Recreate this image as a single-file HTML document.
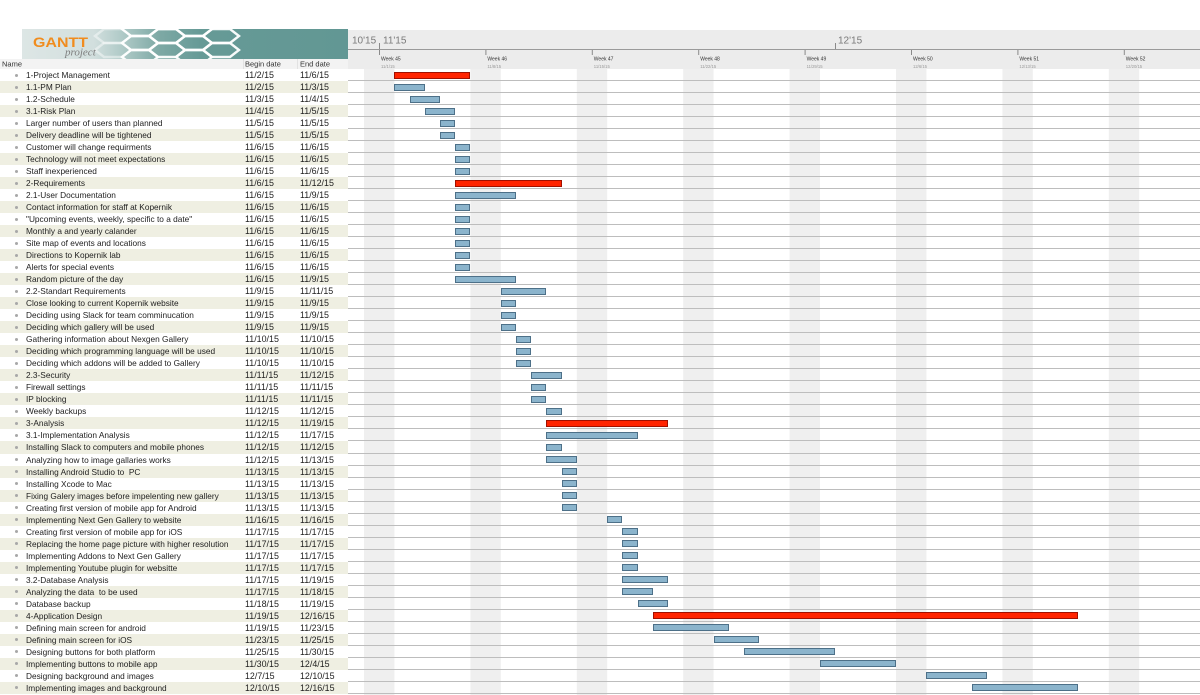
<!DOCTYPE html>
<html><head><meta charset="utf-8">
<style>
html,body{margin:0;padding:0;background:#fff;}
body{width:1200px;height:695px;position:relative;overflow:hidden;font-family:"Liberation Sans",sans-serif;}
#bg{position:absolute;left:0;top:0;}
#rows{position:absolute;left:0;top:69px;width:1200px;}
.r{position:relative;height:12.03px;font-size:8.3px;color:#1e1e1e;line-height:12.03px;}
.r .l{position:absolute;left:0;top:0;width:348px;height:100%;}
.r:nth-child(even) .l{background:#efefe2;}
.r i{position:absolute;left:14.5px;top:4.5px;width:3px;height:3px;border-radius:50%;background:#a8a8a8;}
.r span{position:absolute;top:0;white-space:pre;}
.n{left:26px;}
.b{left:245px;font-size:8.9px;}
.e{left:300px;font-size:8.9px;}
.c{position:absolute;left:348px;right:0;top:0;height:100%;box-sizing:border-box;border-bottom:1px solid #bdbdbd;}
.c u{position:absolute;top:2.5px;height:7px;box-sizing:border-box;border:1px solid #4d7088;background:#8bb4cc;}
.c u.R{border-color:#a01000;background:#ff2400;}
</style></head><body>
<svg id="bg" width="1200" height="695" xmlns="http://www.w3.org/2000/svg">
<defs>
<linearGradient id="bn" x1="0" x2="1" y1="0" y2="0">
<stop offset="0" stop-color="#dde6e5"/>
<stop offset="0.22" stop-color="#d2dfde"/>
<stop offset="0.33" stop-color="#a6c4c1"/>
<stop offset="0.42" stop-color="#7ea9a5"/>
<stop offset="0.55" stop-color="#669a96"/>
<stop offset="1" stop-color="#629794"/>
</linearGradient>
<clipPath id="bc"><rect x="22" y="29" width="326" height="30"/></clipPath>
</defs>
<rect x="22" y="29" width="326" height="30" fill="url(#bn)"/>
<g clip-path="url(#bc)" fill="none" stroke="#ffffff" stroke-width="2.4" stroke-opacity="0.95">
<polygon points="95,36 104,29 122,29 131,36 122,43 104,43" stroke-opacity="0.45"/>
<polygon points="95,50 104,43 122,43 131,50 122,57 104,57" stroke-opacity="0.45"/>
<polygon points="122,29 131,22 149,22 158,29 149,36 131,36"/>
<polygon points="122,43 131,36 149,36 158,43 149,50 131,50"/>
<polygon points="122,57 131,50 149,50 158,57 149,64 131,64"/>
<polygon points="149,22 158,15 176,15 185,22 176,29 158,29"/>
<polygon points="149,36 158,29 176,29 185,36 176,43 158,43"/>
<polygon points="149,50 158,43 176,43 185,50 176,57 158,57"/>
<polygon points="176,29 185,22 203,22 212,29 203,36 185,36"/>
<polygon points="176,43 185,36 203,36 212,43 203,50 185,50"/>
<polygon points="176,57 185,50 203,50 212,57 203,64 185,64"/>
<polygon points="203,36 212,29 230,29 239,36 230,43 212,43"/>
<polygon points="203,50 212,43 230,43 239,50 230,57 212,57"/>
</g>
<text x="33" y="47" font-family="Liberation Sans, sans-serif" font-weight="bold" font-size="14" fill="#f08c1e" textLength="55" lengthAdjust="spacingAndGlyphs">GANTT</text>
<text x="65" y="55.5" font-family="Liberation Serif, serif" font-style="italic" font-size="11" fill="#7d7d7d">project</text>
<rect x="0" y="59" width="348" height="10" fill="#f3f3f3"/>
<line x1="243.5" y1="59" x2="243.5" y2="69" stroke="#e2e2e2"/>
<line x1="297.5" y1="59" x2="297.5" y2="69" stroke="#e2e2e2"/>
<g font-family="Liberation Sans, sans-serif" font-size="7.5" fill="#333">
<text x="2" y="66.5">Name</text>
<text x="245" y="66.5">Begin date</text>
<text x="300" y="66.5">End date</text>
</g>
<rect x="348" y="30" width="852" height="39" fill="#ececec"/>
<line x1="348" y1="49.5" x2="1200" y2="49.5" stroke="#9a9a9a"/>
<g stroke="#8a8a8a">
<line x1="379.5" y1="43" x2="379.5" y2="49"/>
<line x1="835.5" y1="43" x2="835.5" y2="49"/>
<line x1="379.5" y1="50" x2="379.5" y2="55"/>
<line x1="485.9" y1="50" x2="485.9" y2="55"/>
<line x1="592.3" y1="50" x2="592.3" y2="55"/>
<line x1="698.7" y1="50" x2="698.7" y2="55"/>
<line x1="805.1" y1="50" x2="805.1" y2="55"/>
<line x1="911.5" y1="50" x2="911.5" y2="55"/>
<line x1="1017.9" y1="50" x2="1017.9" y2="55"/>
<line x1="1124.3" y1="50" x2="1124.3" y2="55"/>
</g>
<g font-family="Liberation Sans, sans-serif" font-size="10" fill="#7a7a7a">
<text x="352" y="43.5">10'15</text>
<text x="383" y="43.5">11'15</text>
<text x="838" y="43.5">12'15</text>
</g>
<g font-family="Liberation Sans, sans-serif" font-size="5" fill="#333">
<text x="381" y="60.5">Week 45</text>
<text x="487.4" y="60.5">Week 46</text>
<text x="593.8" y="60.5">Week 47</text>
<text x="700.2" y="60.5">Week 48</text>
<text x="806.6" y="60.5">Week 49</text>
<text x="913" y="60.5">Week 50</text>
<text x="1019.4" y="60.5">Week 51</text>
<text x="1125.8" y="60.5">Week 52</text>
</g>
<g font-family="Liberation Sans, sans-serif" font-size="4.2" fill="#999">
<text x="381" y="68">11/1/15</text>
<text x="487.4" y="68">11/8/15</text>
<text x="593.8" y="68">11/15/15</text>
<text x="700.2" y="68">11/22/15</text>
<text x="806.6" y="68">11/29/15</text>
<text x="913" y="68">12/6/15</text>
<text x="1019.4" y="68">12/13/15</text>
<text x="1125.8" y="68">12/20/15</text>
</g>
<g fill="#efefef">
<rect x="364" y="69" width="30.4" height="626"/>
<rect x="470.4" y="69" width="30.4" height="626"/>
<rect x="576.8" y="69" width="30.4" height="626"/>
<rect x="683.2" y="69" width="30.4" height="626"/>
<rect x="789.6" y="69" width="30.4" height="626"/>
<rect x="896" y="69" width="30.4" height="626"/>
<rect x="1002.4" y="69" width="30.4" height="626"/>
<rect x="1108.8" y="69" width="30.4" height="626"/>
</g>
</svg>
<div id="rows">
<div class="r"><div class="l"></div><i></i><span class="n">1-Project Management</span><span class="b">11/2/15</span><span class="e">11/6/15</span><div class="c"><u class="R" style="left:46.4px;width:76px"></u></div></div>
<div class="r"><div class="l"></div><i></i><span class="n">1.1-PM Plan</span><span class="b">11/2/15</span><span class="e">11/3/15</span><div class="c"><u style="left:46.4px;width:30.4px"></u></div></div>
<div class="r"><div class="l"></div><i></i><span class="n">1.2-Schedule</span><span class="b">11/3/15</span><span class="e">11/4/15</span><div class="c"><u style="left:61.6px;width:30.4px"></u></div></div>
<div class="r"><div class="l"></div><i></i><span class="n">3.1-Risk Plan</span><span class="b">11/4/15</span><span class="e">11/5/15</span><div class="c"><u style="left:76.8px;width:30.4px"></u></div></div>
<div class="r"><div class="l"></div><i></i><span class="n">Larger number of users than planned</span><span class="b">11/5/15</span><span class="e">11/5/15</span><div class="c"><u style="left:92px;width:15.2px"></u></div></div>
<div class="r"><div class="l"></div><i></i><span class="n">Delivery deadline will be tightened</span><span class="b">11/5/15</span><span class="e">11/5/15</span><div class="c"><u style="left:92px;width:15.2px"></u></div></div>
<div class="r"><div class="l"></div><i></i><span class="n">Customer will change requirments</span><span class="b">11/6/15</span><span class="e">11/6/15</span><div class="c"><u style="left:107.2px;width:15.2px"></u></div></div>
<div class="r"><div class="l"></div><i></i><span class="n">Technology will not meet expectations</span><span class="b">11/6/15</span><span class="e">11/6/15</span><div class="c"><u style="left:107.2px;width:15.2px"></u></div></div>
<div class="r"><div class="l"></div><i></i><span class="n">Staff inexperienced</span><span class="b">11/6/15</span><span class="e">11/6/15</span><div class="c"><u style="left:107.2px;width:15.2px"></u></div></div>
<div class="r"><div class="l"></div><i></i><span class="n">2-Requirements</span><span class="b">11/6/15</span><span class="e">11/12/15</span><div class="c"><u class="R" style="left:107.2px;width:106.4px"></u></div></div>
<div class="r"><div class="l"></div><i></i><span class="n">2.1-User Documentation</span><span class="b">11/6/15</span><span class="e">11/9/15</span><div class="c"><u style="left:107.2px;width:60.8px"></u></div></div>
<div class="r"><div class="l"></div><i></i><span class="n">Contact information for staff at Kopernik</span><span class="b">11/6/15</span><span class="e">11/6/15</span><div class="c"><u style="left:107.2px;width:15.2px"></u></div></div>
<div class="r"><div class="l"></div><i></i><span class="n">"Upcoming events, weekly, specific to a date"</span><span class="b">11/6/15</span><span class="e">11/6/15</span><div class="c"><u style="left:107.2px;width:15.2px"></u></div></div>
<div class="r"><div class="l"></div><i></i><span class="n">Monthly a and yearly calander</span><span class="b">11/6/15</span><span class="e">11/6/15</span><div class="c"><u style="left:107.2px;width:15.2px"></u></div></div>
<div class="r"><div class="l"></div><i></i><span class="n">Site map of events and locations</span><span class="b">11/6/15</span><span class="e">11/6/15</span><div class="c"><u style="left:107.2px;width:15.2px"></u></div></div>
<div class="r"><div class="l"></div><i></i><span class="n">Directions to Kopernik lab</span><span class="b">11/6/15</span><span class="e">11/6/15</span><div class="c"><u style="left:107.2px;width:15.2px"></u></div></div>
<div class="r"><div class="l"></div><i></i><span class="n">Alerts for special events</span><span class="b">11/6/15</span><span class="e">11/6/15</span><div class="c"><u style="left:107.2px;width:15.2px"></u></div></div>
<div class="r"><div class="l"></div><i></i><span class="n">Random picture of the day</span><span class="b">11/6/15</span><span class="e">11/9/15</span><div class="c"><u style="left:107.2px;width:60.8px"></u></div></div>
<div class="r"><div class="l"></div><i></i><span class="n">2.2-Standart Requirements</span><span class="b">11/9/15</span><span class="e">11/11/15</span><div class="c"><u style="left:152.8px;width:45.6px"></u></div></div>
<div class="r"><div class="l"></div><i></i><span class="n">Close looking to current Kopernik website</span><span class="b">11/9/15</span><span class="e">11/9/15</span><div class="c"><u style="left:152.8px;width:15.2px"></u></div></div>
<div class="r"><div class="l"></div><i></i><span class="n">Deciding using Slack for team comminucation</span><span class="b">11/9/15</span><span class="e">11/9/15</span><div class="c"><u style="left:152.8px;width:15.2px"></u></div></div>
<div class="r"><div class="l"></div><i></i><span class="n">Deciding which gallery will be used</span><span class="b">11/9/15</span><span class="e">11/9/15</span><div class="c"><u style="left:152.8px;width:15.2px"></u></div></div>
<div class="r"><div class="l"></div><i></i><span class="n">Gathering information about Nexgen Gallery</span><span class="b">11/10/15</span><span class="e">11/10/15</span><div class="c"><u style="left:168px;width:15.2px"></u></div></div>
<div class="r"><div class="l"></div><i></i><span class="n">Deciding which programming language will be used</span><span class="b">11/10/15</span><span class="e">11/10/15</span><div class="c"><u style="left:168px;width:15.2px"></u></div></div>
<div class="r"><div class="l"></div><i></i><span class="n">Deciding which addons will be added to Gallery</span><span class="b">11/10/15</span><span class="e">11/10/15</span><div class="c"><u style="left:168px;width:15.2px"></u></div></div>
<div class="r"><div class="l"></div><i></i><span class="n">2.3-Security</span><span class="b">11/11/15</span><span class="e">11/12/15</span><div class="c"><u style="left:183.2px;width:30.4px"></u></div></div>
<div class="r"><div class="l"></div><i></i><span class="n">Firewall settings</span><span class="b">11/11/15</span><span class="e">11/11/15</span><div class="c"><u style="left:183.2px;width:15.2px"></u></div></div>
<div class="r"><div class="l"></div><i></i><span class="n">IP blocking</span><span class="b">11/11/15</span><span class="e">11/11/15</span><div class="c"><u style="left:183.2px;width:15.2px"></u></div></div>
<div class="r"><div class="l"></div><i></i><span class="n">Weekly backups</span><span class="b">11/12/15</span><span class="e">11/12/15</span><div class="c"><u style="left:198.4px;width:15.2px"></u></div></div>
<div class="r"><div class="l"></div><i></i><span class="n">3-Analysis</span><span class="b">11/12/15</span><span class="e">11/19/15</span><div class="c"><u class="R" style="left:198.4px;width:121.6px"></u></div></div>
<div class="r"><div class="l"></div><i></i><span class="n">3.1-Implementation Analysis</span><span class="b">11/12/15</span><span class="e">11/17/15</span><div class="c"><u style="left:198.4px;width:91.2px"></u></div></div>
<div class="r"><div class="l"></div><i></i><span class="n">Installing Slack to computers and mobile phones</span><span class="b">11/12/15</span><span class="e">11/12/15</span><div class="c"><u style="left:198.4px;width:15.2px"></u></div></div>
<div class="r"><div class="l"></div><i></i><span class="n">Analyzing how to image gallaries works</span><span class="b">11/12/15</span><span class="e">11/13/15</span><div class="c"><u style="left:198.4px;width:30.4px"></u></div></div>
<div class="r"><div class="l"></div><i></i><span class="n">Installing Android Studio to  PC</span><span class="b">11/13/15</span><span class="e">11/13/15</span><div class="c"><u style="left:213.6px;width:15.2px"></u></div></div>
<div class="r"><div class="l"></div><i></i><span class="n">Installing Xcode to Mac</span><span class="b">11/13/15</span><span class="e">11/13/15</span><div class="c"><u style="left:213.6px;width:15.2px"></u></div></div>
<div class="r"><div class="l"></div><i></i><span class="n">Fixing Galery images before impelenting new gallery</span><span class="b">11/13/15</span><span class="e">11/13/15</span><div class="c"><u style="left:213.6px;width:15.2px"></u></div></div>
<div class="r"><div class="l"></div><i></i><span class="n">Creating first version of mobile app for Android</span><span class="b">11/13/15</span><span class="e">11/13/15</span><div class="c"><u style="left:213.6px;width:15.2px"></u></div></div>
<div class="r"><div class="l"></div><i></i><span class="n">Implementing Next Gen Gallery to website</span><span class="b">11/16/15</span><span class="e">11/16/15</span><div class="c"><u style="left:259.2px;width:15.2px"></u></div></div>
<div class="r"><div class="l"></div><i></i><span class="n">Creating first version of mobile app for iOS</span><span class="b">11/17/15</span><span class="e">11/17/15</span><div class="c"><u style="left:274.4px;width:15.2px"></u></div></div>
<div class="r"><div class="l"></div><i></i><span class="n">Replacing the home page picture with higher resolution</span><span class="b">11/17/15</span><span class="e">11/17/15</span><div class="c"><u style="left:274.4px;width:15.2px"></u></div></div>
<div class="r"><div class="l"></div><i></i><span class="n">Implementing Addons to Next Gen Gallery</span><span class="b">11/17/15</span><span class="e">11/17/15</span><div class="c"><u style="left:274.4px;width:15.2px"></u></div></div>
<div class="r"><div class="l"></div><i></i><span class="n">Implementing Youtube plugin for websitte</span><span class="b">11/17/15</span><span class="e">11/17/15</span><div class="c"><u style="left:274.4px;width:15.2px"></u></div></div>
<div class="r"><div class="l"></div><i></i><span class="n">3.2-Database Analysis</span><span class="b">11/17/15</span><span class="e">11/19/15</span><div class="c"><u style="left:274.4px;width:45.6px"></u></div></div>
<div class="r"><div class="l"></div><i></i><span class="n">Analyzing the data  to be used</span><span class="b">11/17/15</span><span class="e">11/18/15</span><div class="c"><u style="left:274.4px;width:30.4px"></u></div></div>
<div class="r"><div class="l"></div><i></i><span class="n">Database backup</span><span class="b">11/18/15</span><span class="e">11/19/15</span><div class="c"><u style="left:289.6px;width:30.4px"></u></div></div>
<div class="r"><div class="l"></div><i></i><span class="n">4-Application Design</span><span class="b">11/19/15</span><span class="e">12/16/15</span><div class="c"><u class="R" style="left:304.8px;width:425.6px"></u></div></div>
<div class="r"><div class="l"></div><i></i><span class="n">Defining main screen for android</span><span class="b">11/19/15</span><span class="e">11/23/15</span><div class="c"><u style="left:304.8px;width:76px"></u></div></div>
<div class="r"><div class="l"></div><i></i><span class="n">Defining main screen for iOS</span><span class="b">11/23/15</span><span class="e">11/25/15</span><div class="c"><u style="left:365.6px;width:45.6px"></u></div></div>
<div class="r"><div class="l"></div><i></i><span class="n">Designing buttons for both platform</span><span class="b">11/25/15</span><span class="e">11/30/15</span><div class="c"><u style="left:396px;width:91.2px"></u></div></div>
<div class="r"><div class="l"></div><i></i><span class="n">Implementing buttons to mobile app</span><span class="b">11/30/15</span><span class="e">12/4/15</span><div class="c"><u style="left:472px;width:76px"></u></div></div>
<div class="r"><div class="l"></div><i></i><span class="n">Designing background and images</span><span class="b">12/7/15</span><span class="e">12/10/15</span><div class="c"><u style="left:578.4px;width:60.8px"></u></div></div>
<div class="r"><div class="l"></div><i></i><span class="n">Implementing images and background</span><span class="b">12/10/15</span><span class="e">12/16/15</span><div class="c"><u style="left:624px;width:106.4px"></u></div></div>
</div>
</body></html>
